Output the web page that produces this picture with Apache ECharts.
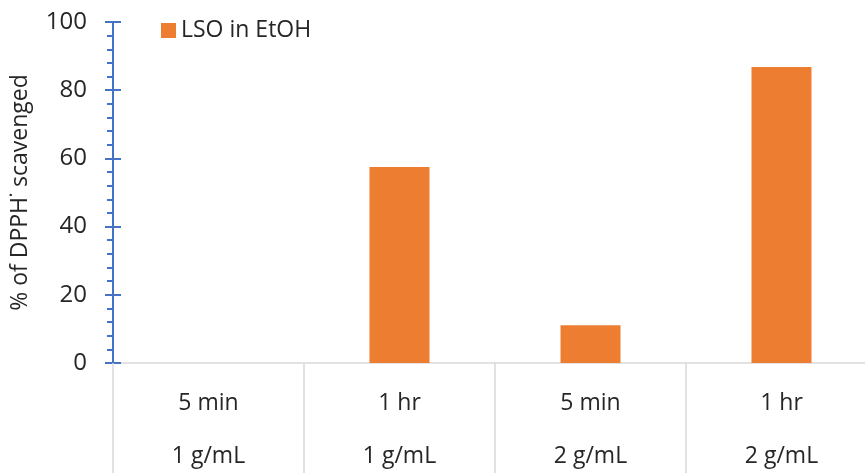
<!DOCTYPE html>
<html>
<head>
<meta charset="utf-8">
<script src="https://cdn.jsdelivr.net/npm/echarts@6/dist/echarts.min.js"></script>
<style>
  html, body { margin: 0; padding: 0; background: #fff; }
  #main { width: 865px; height: 473px; }
</style>
</head>
<body>
<div id="main"></div>
<script>
// 数据
const times = ['5 min', '1 hr', '5 min', '1 hr'];
const concs = ['1 g/mL', '1 g/mL', '2 g/mL', '2 g/mL'];
const scavenged = [0, 57.5, 11.1, 86.8];
const seriesName = 'LSO in EtOH';

const categories = times.map((t, i) => t + '\n' + concs[i]);

const myChart = echarts.init(document.getElementById('main'));
const font = 'Open Sans';
const textColor = '#262626';
const axisBlue = '#4472C4';

const option = {
  textStyle: { fontFamily: font },
  animation: false,
  legend: {
    left: 156,
    top: 14,
    itemWidth: 15,
    itemHeight: 15,
    itemGap: 8,
    icon: 'rect',
    textStyle: { fontSize: 23, color: textColor, fontFamily: font },
    data: [seriesName]
  },
  grid: {
    left: 113,
    top: 22,
    width: 764,
    height: 341,
    outerBoundsMode: 'none',
    containLabel: false
  },
  xAxis: {
    type: 'category',
    data: categories,
    axisLine: { lineStyle: { color: '#d9d9d9', width: 1.5 } },
    axisTick: {
      show: true,
      alignWithLabel: false,
      interval: 0,
      inside: false,
      length: 115,
      lineStyle: { color: '#d9d9d9', width: 1.5 }
    },
    axisLabel: {
      interval: 0,
      margin: 14,
      fontSize: 23,
      lineHeight: 53,
      color: textColor,
      fontFamily: font
    },
    splitLine: { show: false }
  },
  yAxis: [
    {
      type: 'value',
      min: 0,
      max: 100,
      interval: 20,
      name: '% of DPPH˙ scavenged',
      nameLocation: 'middle',
      nameGap: 81,
      nameTextStyle: { fontSize: 23, color: textColor, fontFamily: font },
      axisLine: { show: true, lineStyle: { color: axisBlue, width: 2 } },
      axisTick: { show: true, length: 8, lineStyle: { color: axisBlue, width: 2 } },
      minorTick: { show: true, splitNumber: 5, length: 6, lineStyle: { color: axisBlue, width: 2 } },
      axisLabel: { fontSize: 24, color: textColor, margin: 26, fontFamily: font },
      splitLine: { show: false }
    },
    {
      // 主刻度向内的一半，做出十字刻度
      type: 'value',
      min: 0,
      max: 100,
      interval: 20,
      position: 'left',
      axisLine: { show: false },
      axisTick: { show: true, inside: true, length: 8, lineStyle: { color: axisBlue, width: 2 } },
      axisLabel: { show: false },
      splitLine: { show: false }
    }
  ],
  series: [
    {
      name: seriesName,
      type: 'bar',
      data: scavenged,
      barWidth: 60,
      itemStyle: { color: '#ED7D31' }
    }
  ]
};

myChart.setOption(option);
</script>
</body>
</html>
